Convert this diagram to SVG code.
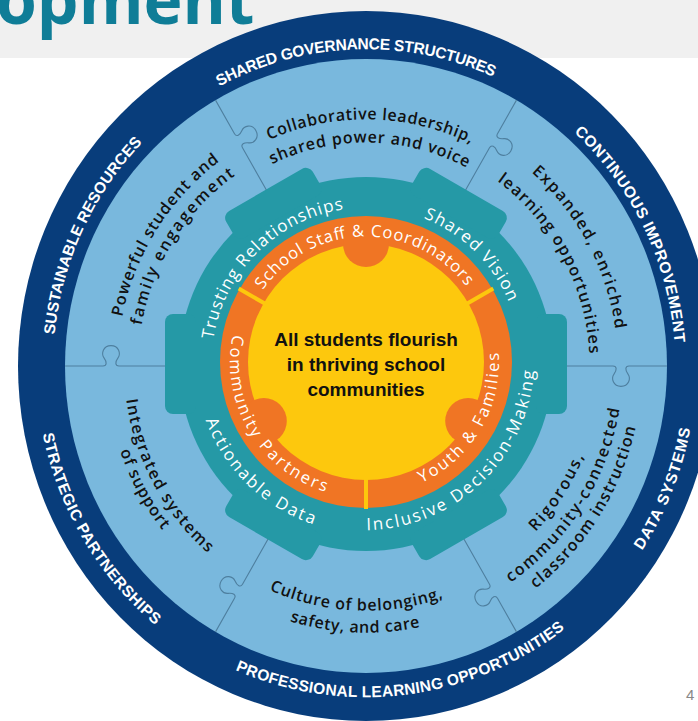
<svg xmlns="http://www.w3.org/2000/svg" width="698" height="721" viewBox="0 0 698 721">
<style>
.band{font-family:"Liberation Sans",Arial,sans-serif;font-weight:bold;font-size:15.5px;fill:#fff}
.lb{font-family:"Open Sans","Liberation Sans",sans-serif;font-weight:600;font-size:16px;fill:#111}
.tl{font-family:"Open Sans","Liberation Sans",sans-serif;font-size:17px;fill:#fff}
.or{font-family:"Open Sans","Liberation Sans",sans-serif;font-size:16.5px;fill:#fff}
.ctr{font-family:"Liberation Sans",Arial,sans-serif;font-weight:bold;font-size:19px;fill:#111;text-anchor:middle}
.sep{fill:none;stroke:#4e7f9f;stroke-width:1.1}
</style>
<defs>
<path id="pSG" d="M-312.8,10.92 A313,313 0 0 1 312.8,-10.92"/>
<path id="pCI" d="M-137.2,-281.3 A313,313 0 0 1 137.2,281.3"/>
<path id="pSR" d="M-132.3,283.7 A313,313 0 0 1 132.3,-283.7"/>
<path id="pDS" d="M-123.6,306 A330,330 0 0 0 123.6,-306"/>
<path id="pPL" d="M-327.5,40.2 A330,330 0 0 0 327.5,-40.2"/>
<path id="pSP" d="M-170,-282.9 A330,330 0 0 0 170,282.9"/>
<path id="pC1" d="M-242.96,-4.24 A243,243 0 0 1 242.96,4.24"/>
<path id="pC2" d="M-218.97,-3.82 A219,219 0 0 1 218.97,3.82"/>
<path id="pE1" d="M-120.6,-221.3 A252,252 0 0 1 120.6,221.3"/>
<path id="pE2" d="M-108.2,-198.4 A226,226 0 0 1 108.2,198.4"/>
<path id="pR1" d="M-128,197.1 A235,235 0 0 0 128,-197.1"/>
<path id="pR2" d="M-138.5,216.5 A257,257 0 0 0 138.5,-216.5"/>
<path id="pR3" d="M-150,236.4 A280,280 0 0 0 150,-236.4"/>
<path id="pK1" d="M-239.8,-10.47 A240,240 0 0 0 239.8,10.47"/>
<path id="pK2" d="M-261.75,-11.43 A262,262 0 0 0 261.75,11.43"/>
<path id="pI1" d="M-115.5,-212.7 A242,242 0 0 0 115.5,212.7"/>
<path id="pI2" d="M-125.5,-231.1 A263,263 0 0 0 125.5,231.1"/>
<path id="pP1" d="M-135.4,212.5 A252,252 0 0 1 135.4,-212.5"/>
<path id="pP2" d="M-122.5,192.3 A228,228 0 0 1 122.5,-192.3"/>
<path id="pTR" d="M-110.3,110.3 A156,156 0 0 1 110.3,-110.3"/>
<path id="pSV" d="M-110.6,-108.6 A155,155 0 0 1 110.6,108.6"/>
<path id="pID" d="M-123.8,117.9 A171,171 0 0 0 123.8,-117.9"/>
<path id="pAD" d="M-123.7,-119.5 A172,172 0 0 0 123.7,119.5"/>
<path id="pSS" d="M-125.98,2.2 A126,126 0 0 1 125.98,-2.2"/>
<path id="pCP" d="M-69,-117.2 A136,136 0 0 0 69,117.2"/>
<path id="pYF" d="M-67.9,114.4 A133,133 0 0 0 67.9,-114.4"/>
<path id="knob" d="M150,0 H247 C251,0 251,4 248,8 C245,12 247,20 255,20 C263,20 265,12 262,8 C259,4 259,0 263,0 H301"/>
<rect id="tooth" x="170" y="-50" width="31" height="100" rx="8"/>
</defs>
<rect x="0" y="0" width="698" height="58" fill="#f0f0f0"/>
<text x="-4" y="24" font-family="'Open Sans','Liberation Sans',sans-serif" font-weight="bold" font-size="66" fill="#0f7d97">opment</text>
<text x="686" y="700" font-family="'Liberation Sans',sans-serif" font-size="15" fill="#888">4</text>
<g id="outer" transform="translate(366,366) scale(1,1.02)">
<circle r="348" fill="#083d7b"/>
<circle r="301" fill="#79b8dd"/>
<g id="connectors">
<use href="#knob" class="sep" transform="rotate(-60)"/>
<use href="#knob" class="sep" transform="rotate(0)"/>
<use href="#knob" class="sep" transform="rotate(60)"/>
<use href="#knob" class="sep" transform="rotate(120)"/>
<use href="#knob" class="sep" transform="rotate(180)"/>
<use href="#knob" class="sep" transform="rotate(240)"/>
</g>
<g id="band-labels" class="band">
<text><textPath href="#pSG" startOffset="50%" text-anchor="middle" textLength="284">SHARED GOVERNANCE STRUCTURES</textPath></text>
<text><textPath href="#pCI" startOffset="50%" text-anchor="middle" textLength="235">CONTINUOUS IMPROVEMENT</textPath></text>
<text><textPath href="#pSR" startOffset="50%" text-anchor="middle" textLength="212">SUSTAINABLE RESOURCES</textPath></text>
<text><textPath href="#pDS" startOffset="50%" text-anchor="middle" textLength="130">DATA SYSTEMS</textPath></text>
<text><textPath href="#pPL" startOffset="50%" text-anchor="middle" textLength="348">PROFESSIONAL LEARNING OPPORTUNITIES</textPath></text>
<text><textPath href="#pSP" startOffset="50%" text-anchor="middle" textLength="223">STRATEGIC PARTNERSHIPS</textPath></text>
</g>
<g id="pieces" class="lb">
<text><textPath href="#pC1" startOffset="50%" text-anchor="middle" textLength="208">Collaborative leadership,</textPath></text>
<text><textPath href="#pC2" startOffset="50%" text-anchor="middle" textLength="202">shared power and voice</textPath></text>
<text><textPath href="#pE1" startOffset="50%" text-anchor="middle" textLength="179">Expanded, enriched</textPath></text>
<text><textPath href="#pE2" startOffset="50%" text-anchor="middle" textLength="199">learning opportunities</textPath></text>
<text><textPath href="#pR1" startOffset="50%" text-anchor="middle" textLength="89">Rigorous,</textPath></text>
<text><textPath href="#pR2" startOffset="50%" text-anchor="middle" textLength="208">community-connected</textPath></text>
<text><textPath href="#pR3" startOffset="50%" text-anchor="middle" textLength="191">classroom instruction</textPath></text>
<text><textPath href="#pK1" startOffset="50%" text-anchor="middle" textLength="178">Culture of belonging,</textPath></text>
<text><textPath href="#pK2" startOffset="50%" text-anchor="middle" textLength="132">safety, and care</textPath></text>
<text><textPath href="#pI1" startOffset="50%" text-anchor="middle" textLength="175">Integrated systems</textPath></text>
<text><textPath href="#pI2" startOffset="50%" text-anchor="middle" textLength="89">of support</textPath></text>
<text><textPath href="#pP1" startOffset="50%" text-anchor="middle" textLength="185">Powerful student and</textPath></text>
<text><textPath href="#pP2" startOffset="50%" text-anchor="middle" textLength="179">family engagement</textPath></text>
</g>
</g>
<g id="gear" transform="translate(366,364)" fill="#2599a6">
<circle r="187"/>
<use href="#tooth" transform="rotate(0)"/>
<use href="#tooth" transform="rotate(60)"/>
<use href="#tooth" transform="rotate(120)"/>
<use href="#tooth" transform="rotate(180)"/>
<use href="#tooth" transform="rotate(240)"/>
<use href="#tooth" transform="rotate(300)"/>
</g>
<g id="core" transform="translate(366,362)">
<circle r="146" fill="#f07524"/>
<circle r="118" fill="#fdc80d"/>
<circle cx="0" cy="-118" r="23" fill="#f07524"/>
<circle cx="-102.2" cy="59" r="23" fill="#f07524"/>
<circle cx="102.2" cy="59" r="23" fill="#f07524"/>
<g stroke="#fdc80d" stroke-width="4">
<line x1="0" y1="117" x2="0" y2="147"/>
<line x1="-101.3" y1="-58.5" x2="-127.3" y2="-73.5"/>
<line x1="101.3" y1="-58.5" x2="127.3" y2="-73.5"/>
</g>
<g class="tl">
<text><textPath href="#pTR" startOffset="50%" text-anchor="middle" textLength="197">Trusting Relationships</textPath></text>
<text><textPath href="#pSV" startOffset="50%" text-anchor="middle" textLength="123">Shared Vision</textPath></text>
<text><textPath href="#pID" startOffset="50%" text-anchor="middle" textLength="254">Inclusive Decision-Making</textPath></text>
<text><textPath href="#pAD" startOffset="50%" text-anchor="middle" textLength="155">Actionable Data</textPath></text>
</g>
<g class="or">
<text><textPath href="#pSS" startOffset="50%" text-anchor="middle" textLength="237">School Staff &amp; Coordinators</textPath></text>
<text><textPath href="#pCP" startOffset="50%" text-anchor="middle" textLength="200">Community Partners</textPath></text>
<text><textPath href="#pYF" startOffset="50%" text-anchor="middle" textLength="161">Youth &amp; Families</textPath></text>
</g>
<g class="ctr">
<text x="0" y="-16">All students flourish</text>
<text x="0" y="9">in thriving school</text>
<text x="0" y="34">communities</text>
</g>
</g>
</svg>
